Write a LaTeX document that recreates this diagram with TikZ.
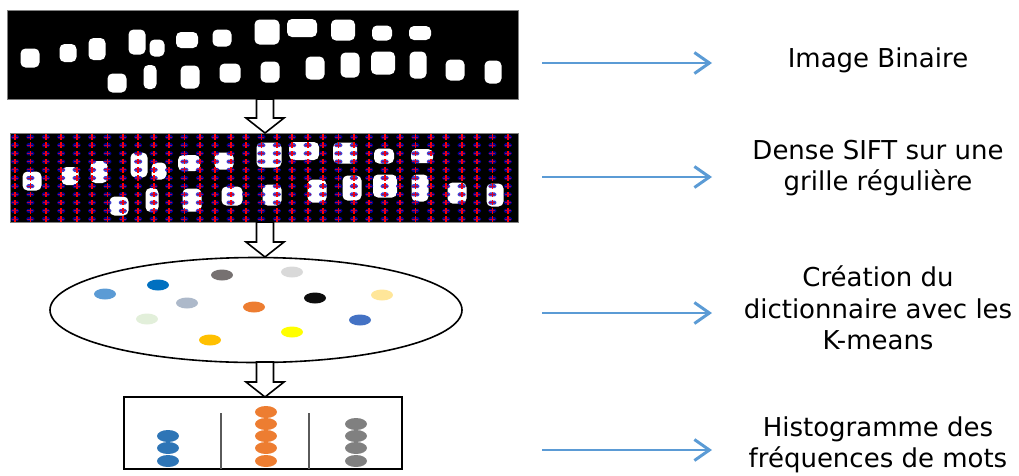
\documentclass[tikz,border=0pt]{standalone}
\usepackage{fontspec}
\setmainfont{DejaVu Sans}
\usetikzlibrary{positioning, arrows.meta, shapes.geometric, calc}

\definecolor{flecheBleu}{HTML}{5B9BD5}
\definecolor{motBleu}{HTML}{2E75B6}
\definecolor{motOrange}{HTML}{ED7D31}
\definecolor{motGris}{HTML}{808080}

% taches blanches (x/y/largeur/hauteur) des mots manuscrits
\def\listeTaches{30/58/19/19, 68/53/17/18, 97/49/17/22, 137/42/17/25, 157/48/15/17,
  187/40/22/16, 222/38/19/17, 267/32/25/25, 302/28/30/18, 343/30/24/21,
  382/33/20/15, 420/33/22/14, 117/83/19/19, 150/77/13/24, 190/77/19/23,
  230/73/21/19, 270/72/19/21, 315/68/19/23, 350/65/19/25, 383/63/24/23,
  418/65/17/27, 455/70/19/21, 493/72/17/23}

% fleche creuse verticale : #1 = depart, #2 = pointe
\newcommand{\flecheBloc}[2]{%
  \draw[blocarrow] ($(#1)+(-8.5,0)$) -- ($(#1)+(8.5,0)$) -- ($(#2)+(8.5,-15)$)
    -- ($(#2)+(19,-15)$) -- (#2) -- ($(#2)+(-19,-15)$) -- ($(#2)+(-8.5,-15)$) -- cycle;}

\begin{document}
\begin{tikzpicture}[
    x=1pt, y=-1pt,
    imgbox/.style={rectangle, draw=motGris, line width=1pt, fill=black, inner sep=0pt,
                   minimum height=89pt},
    tache/.style={fill=white, rounded corners=5pt},
    blocarrow/.style={draw=black, fill=white, line width=1.6pt},
    bluearrow/.style={-{Straight Barb[length=15pt, width=21pt, line width=3pt]},
                      draw=flecheBleu, line width=2.2pt},
    etiquette/.style={align=center, font=\fontsize{26}{31.5}\selectfont},
    pastille/.style={ellipse, minimum width=22pt, minimum height=12pt, inner sep=0pt}
]
  \useasboundingbox (0,0) rectangle (1019,475);

  % Image binaire
  \node[imgbox, minimum width=511pt] (binaire) at (262.5,54.5) {};
  \foreach \bx/\by/\bw/\bh in \listeTaches
    \fill[tache] (\bx-\bw/2,\by-\bh/2) rectangle ++(\bw,\bh);

  % Dense SIFT sur la grille
  \node[imgbox, minimum width=508pt] (sift) at (264,177.5) {};
  \begin{scope}[shift={(2,123)}]
    \foreach \bx/\by/\bw/\bh in \listeTaches
      \fill[tache] (\bx-\bw/2,\by-\bh/2) rectangle ++(\bw,\bh);
  \end{scope}
  \begin{scope}
    \clip (10.5,133.5) rectangle (517.5,221.5);
    \foreach \i in {0,...,32}
      \foreach \j in {0,...,10} {
        \fill[blue!75!black, opacity=0.75, rounded corners=1.5pt]
          (15+\i*15.4-4,137+\j*8.2-2) rectangle ++(8,4);
        \fill[red] (15+\i*15.4-0.9,137+\j*8.2-2.8) rectangle ++(1.8,5.6);
        \fill[red!75!blue] (15+\i*15.4-3,137+\j*8.2-0.5) rectangle ++(6,1);
      }
  \end{scope}

  % Dictionnaire (K-means)
  \node[ellipse, draw, line width=1.6pt, minimum width=412pt, minimum height=105pt,
        inner sep=0pt] (dico) at (256,310) {};
  \foreach \cx/\cy/\coul in {105/294/5B9BD5, 158/285/0070C0, 222/275/767171,
      292/272/D9D9D9, 187/303/ADB9CA, 254/307/ED7D31, 315/298/0D0D0D,
      382/295/FFE699, 147/319/E2EFDA, 360/320/4472C4, 210/340/FFC000, 292/332/FFFF00} {
    \definecolor{tmp}{HTML}{\coul}
    \node[pastille, fill=tmp, minimum height=11pt] at (\cx,\cy) {};
  }

  % Histogramme
  \node[rectangle, draw, line width=1.6pt, minimum width=278pt, minimum height=72pt,
        inner sep=0pt] (histo) at (263,433) {};
  \draw[motGris!70!black, line width=1.2pt] (221,413) -- (221,469);
  \draw[motGris!70!black, line width=1.2pt] (309,413) -- (309,469);
  \foreach \cy in {436,448,461}
    \node[pastille, fill=motBleu] at (168,\cy) {};
  \foreach \cy in {412,424,436,448,461}
    \node[pastille, fill=motOrange] at (266,\cy) {};
  \foreach \cy in {424,436,448,461}
    \node[pastille, fill=motGris] at (356,\cy) {};

  % Fleches creuses entre les etapes
  \coordinate (b1) at (265,99);  \coordinate (p1) at (265,133);
  \coordinate (b2) at (265,222); \coordinate (p2) at (265,257);
  \coordinate (b3) at (265,362); \coordinate (p3) at (265,397);
  \flecheBloc{b1}{p1}
  \flecheBloc{b2}{p2}
  \flecheBloc{b3}{p3}

  % Textes
  \node[etiquette] (t1) at (878,60) {Image Binaire};
  \node[etiquette] (t2) at (878,168) {Dense SIFT sur une\\grille régulière};
  \node[etiquette] (t3) at (878,308) {Création du\\dictionnaire avec les\\K-means};
  \node[etiquette] (t4) at (878,445) {Histogramme des\\fréquences de mots};

  % Fleches bleues
  \coordinate (a1) at (542,63);  \coordinate (e1) at (712,63);
  \coordinate (a2) at (542,177); \coordinate (e2) at (712,177);
  \coordinate (a3) at (542,313); \coordinate (e3) at (712,313);
  \coordinate (a4) at (542,450); \coordinate (e4) at (712,450);
  \draw[bluearrow] (a1) -- (e1);
  \draw[bluearrow] (a2) -- (e2);
  \draw[bluearrow] (a3) -- (e3);
  \draw[bluearrow] (a4) -- (e4);
\end{tikzpicture}
\end{document}
